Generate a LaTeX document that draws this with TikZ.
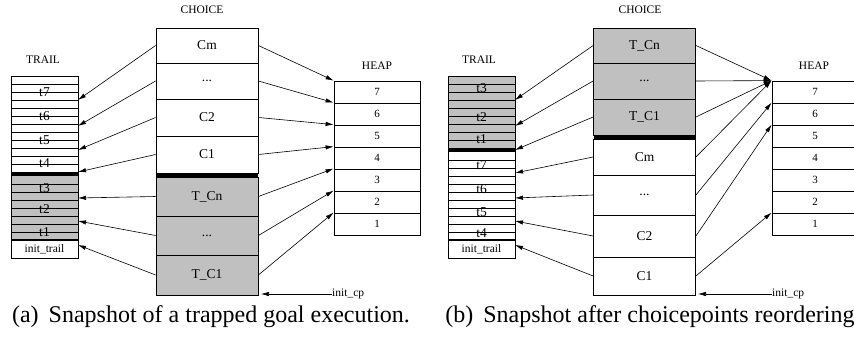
\documentclass[tikz,border=0pt]{standalone}
\usepackage{fontspec}
\setmainfont{Liberation Serif}
\usetikzlibrary{arrows.meta}
\definecolor{trapgray}{RGB}{192,192,192}
\tikzset{
  cell/.style={draw, line width=0.8pt, inner sep=0pt, minimum width=102pt, font=\fontsize{13.5}{14}\selectfont},
  trapped/.style={fill=trapgray},
  hcell/.style={draw, line width=0.8pt, inner sep=0pt, minimum width=86pt, minimum height=22pt, font=\fontsize{11}{12}\selectfont},
  tag/.style={inner sep=0pt, font=\fontsize{11.5}{12}\selectfont},
  tlab/.style={inner sep=0pt, font=\fontsize{13.5}{14}\selectfont},
  ptr/.style={-{Latex[length=8pt,width=4.4pt]}, line width=0.6pt},
  subcap/.style={inner sep=0pt, font=\fontsize{24}{26}\selectfont},
}
\begin{document}
\begin{tikzpicture}[x=1pt,y=-1pt]
	\useasboundingbox (0,0) rectangle (854,339);
	% (a) trapped goal
	\node[tag] (atrail) at (43,60) {TRAIL};
	\node[tag] (achoice) at (202,10) {CHOICE};
	\node[tag] (aheap) at (377,66) {HEAP};

	\fill[trapgray] (11,176) rectangle (78,240);
	\draw[line width=0.5pt] (11,84) -- (78,84);
	\draw[line width=0.5pt] (11,92) -- (78,92);
	\draw[line width=0.5pt] (11,100) -- (78,100);
	\draw[line width=0.5pt] (11,108) -- (78,108);
	\draw[line width=0.5pt] (11,116) -- (78,116);
	\draw[line width=0.5pt] (11,124) -- (78,124);
	\draw[line width=0.5pt] (11,132) -- (78,132);
	\draw[line width=0.5pt] (11,140) -- (78,140);
	\draw[line width=0.5pt] (11,148) -- (78,148);
	\draw[line width=0.5pt] (11,156) -- (78,156);
	\draw[line width=0.5pt] (11,164) -- (78,164);
	\fill (11,172) rectangle (78,176);
	\draw[line width=0.5pt] (11,184) -- (78,184);
	\draw[line width=0.5pt] (11,192) -- (78,192);
	\draw[line width=0.5pt] (11,200) -- (78,200);
	\draw[line width=0.5pt] (11,208) -- (78,208);
	\draw[line width=0.5pt] (11,216) -- (78,216);
	\draw[line width=0.5pt] (11,224) -- (78,224);
	\draw[line width=0.5pt] (11,232) -- (78,232);
	\draw[line width=1.2pt] (11,240) -- (78,240);
	\draw[line width=0.8pt] (11,76) rectangle (78,258);
	\node[tlab] (at7) at (44.5,92) {t7};
	\node[tlab] (at6) at (44.5,116) {t6};
	\node[tlab] (at5) at (44.5,140) {t5};
	\node[tlab] (at4) at (44.5,163) {t4};
	\node[tlab] (at3) at (44.5,188) {t3};
	\node[tlab] (at2) at (44.5,209) {t2};
	\node[tlab] (at1) at (44.5,232) {t1};
	\node[tag] (ainit) at (44.5,249) {init\_trail};
	\coordinate (ap7) at (78,100);
	\coordinate (ap6) at (78,126);
	\coordinate (ap5) at (78,150);
	\coordinate (ap4) at (78,172);
	\coordinate (ap3) at (78,198);
	\coordinate (ap2) at (78,221);
	\coordinate (ap1) at (78,245);

	\node[cell, minimum height=35pt] (acm) at (207,45.5) {Cm};
	\node[cell, minimum height=36pt] (adots) at (207,81) {...};
	\node[cell, minimum height=37pt] (ac2) at (207,117.5) {C2};
	\node[cell, minimum height=37pt] (ac1) at (207,154.5) {C1};
	\node[cell, trapped, minimum height=39pt] (atcn) at (207,196.5) {T\_Cn};
	\node[cell, trapped, minimum height=39pt] (atdots) at (207,235.5) {...};
	\node[cell, trapped, minimum height=40pt] (atc1) at (207,275) {T\_C1};
	\fill (156,173) rectangle (258,177);

	\node[hcell] (ah7) at (377,92) {7};
	\node[hcell] (ah6) at (377,114) {6};
	\node[hcell] (ah5) at (377,136) {5};
	\node[hcell] (ah4) at (377,158) {4};
	\node[hcell] (ah3) at (377,180) {3};
	\node[hcell] (ah2) at (377,202) {2};
	\node[hcell] (ah1) at (377,224) {1};

	\draw[ptr] (acm.west) -- (ap7);
	\draw[ptr] (adots.west) -- (ap6);
	\draw[ptr] (ac2.west) -- (ap5);
	\draw[ptr] (ac1.west) -- (ap4);
	\draw[ptr] (atcn.west) -- (ap3);
	\draw[ptr] (atdots.west) -- (ap2);
	\draw[ptr] (atc1.west) -- (ap1);

	\draw[ptr] (acm.east) -- (ah7.north west);
	\draw[ptr] (adots.east) -- (ah6.north west);
	\draw[ptr] (ac2.east) -- (ah5.north west);
	\draw[ptr] (ac1.east) -- (ah4.north west);
	\draw[ptr] (atcn.east) -- (ah3.north west);
	\draw[ptr] (atdots.east) -- (ah2.north west);
	\draw[ptr] (atc1.east) -- (ah1.north west);

	\node[tag, anchor=west] (acp) at (332,294) {init\_cp};
	\coordinate (acpend) at (261,294);
	\draw[ptr] (acp.west) -- (acpend);

	% (b) after reordering
	\node[tag] (btrail) at (479,60) {TRAIL};
	\node[tag] (bchoice) at (640,10) {CHOICE};
	\node[tag] (bheap) at (814,66) {HEAP};

	\fill[trapgray] (448,76) rectangle (515,148);
	\draw[line width=0.5pt] (448,84) -- (515,84);
	\draw[line width=0.5pt] (448,92) -- (515,92);
	\draw[line width=0.5pt] (448,100) -- (515,100);
	\draw[line width=0.5pt] (448,108) -- (515,108);
	\draw[line width=0.5pt] (448,116) -- (515,116);
	\draw[line width=0.5pt] (448,124) -- (515,124);
	\draw[line width=0.5pt] (448,132) -- (515,132);
	\draw[line width=0.5pt] (448,140) -- (515,140);
	\fill (448,148) rectangle (515,152);
	\draw[line width=0.5pt] (448,160) -- (515,160);
	\draw[line width=0.5pt] (448,168) -- (515,168);
	\draw[line width=0.5pt] (448,176) -- (515,176);
	\draw[line width=0.5pt] (448,184) -- (515,184);
	\draw[line width=0.5pt] (448,192) -- (515,192);
	\draw[line width=0.5pt] (448,200) -- (515,200);
	\draw[line width=0.5pt] (448,208) -- (515,208);
	\draw[line width=0.5pt] (448,216) -- (515,216);
	\draw[line width=0.5pt] (448,224) -- (515,224);
	\draw[line width=0.5pt] (448,232) -- (515,232);
	\draw[line width=1.2pt] (448,240) -- (515,240);
	\draw[line width=0.8pt] (448,76) rectangle (515,258);
	\node[tlab] (bt3) at (481.5,88) {t3};
	\node[tlab] (bt2) at (481.5,117) {t2};
	\node[tlab] (bt1) at (481.5,139) {t1};
	\node[tlab] (bt7) at (481.5,165) {t7};
	\node[tlab] (bt6) at (481.5,189) {t6};
	\node[tlab] (bt5) at (481.5,212) {t5};
	\node[tlab] (bt4) at (481.5,233) {t4};
	\node[tag] (binit) at (481.5,249) {init\_trail};
	\coordinate (bp7) at (515,100);
	\coordinate (bp6) at (515,126);
	\coordinate (bp5) at (515,150);
	\coordinate (bp4) at (515,173);
	\coordinate (bp3) at (515,198);
	\coordinate (bp2) at (515,221);
	\coordinate (bp1) at (515,245);

	\node[cell, trapped, minimum height=35pt] (btcn) at (644.5,45.5) {T\_Cn};
	\node[cell, trapped, minimum height=36pt] (btdots) at (644.5,81) {...};
	\node[cell, trapped, minimum height=36pt] (btc1) at (644.5,117) {T\_C1};
	\node[cell, minimum height=36pt] (bcm) at (644.5,157) {Cm};
	\node[cell, minimum height=40pt] (bdots) at (644.5,195) {...};
	\node[cell, minimum height=42pt] (bc2) at (644.5,236) {C2};
	\node[cell, minimum height=38pt] (bc1) at (644.5,276) {C1};
	\fill (593.5,135) rectangle (695.5,139);

	\node[hcell] (bh7) at (815,92) {7};
	\node[hcell] (bh6) at (815,114) {6};
	\node[hcell] (bh5) at (815,136) {5};
	\node[hcell] (bh4) at (815,158) {4};
	\node[hcell] (bh3) at (815,180) {3};
	\node[hcell] (bh2) at (815,202) {2};
	\node[hcell] (bh1) at (815,224) {1};

	\draw[ptr] (btcn.west) -- (bp7);
	\draw[ptr] (btdots.west) -- (bp6);
	\draw[ptr] (btc1.west) -- (bp5);
	\draw[ptr] (bcm.west) -- (bp4);
	\draw[ptr] (bdots.west) -- (bp3);
	\draw[ptr] (bc2.west) -- (bp2);
	\draw[ptr] (bc1.west) -- (bp1);

	\draw[ptr] (btcn.east) -- (bh7.north west);
	\draw[ptr] (btdots.east) -- (bh7.north west);
	\draw[ptr] (btc1.east) -- (bh7.north west);
	\draw[ptr] (bcm.east) -- (bh7.north west);
	\draw[ptr] (bdots.east) -- (bh6.north west);
	\draw[ptr] (bc2.east) -- (bh5.north west);
	\draw[ptr] (bc1.east) -- (bh1.north west);

	\node[tag, anchor=west] (bcp) at (772,294) {init\_cp};
	\coordinate (bcpend) at (698,294);
	\draw[ptr] (bcp.west) -- (bcpend);

	% captions
	\node[subcap, anchor=base] (capa) at (211,322) {(a)\hspace{10pt}Snapshot of a trapped goal execution.};
	\node[subcap, anchor=base] (capb) at (650,322) {(b)\hspace{10pt}Snapshot after choicepoints reordering};
\end{tikzpicture}
\end{document}
